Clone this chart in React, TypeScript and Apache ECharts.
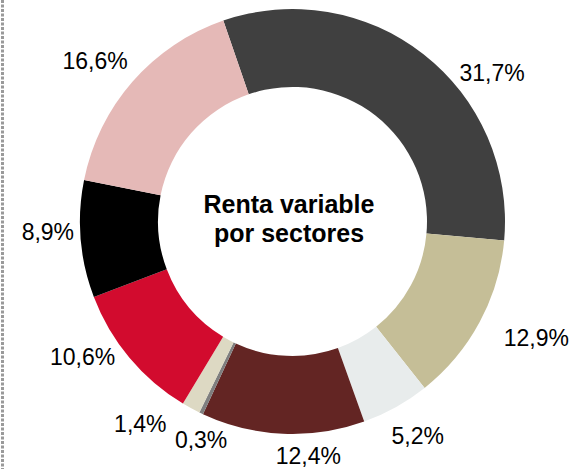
import React, { useEffect, useRef } from "react";
import * as echarts from "echarts";

const sectors = ["S1", "S2", "S3", "S4", "S5", "S6", "S7", "S8", "S9"];
const shares = [31.7, 12.9, 5.2, 12.4, 0.3, 1.4, 10.6, 8.9, 16.6];
const labelTexts = ["31,7%", "12,9%", "5,2%", "12,4%", "0,3%", "1,4%", "10,6%", "8,9%", "16,6%"];
const colors = ["#404040", "#C5BE97", "#E8ECEC", "#632523", "#7F7F7F", "#DDD9C3", "#D20B2E", "#000000", "#E5B9B7"];
// label nudges (styling only)
const labelNudge: [number, number][] = [
  [47, 46], [26, -1], [5, -2], [27, -13], [15, -5], [-34, -15], [-20, -23], [2, -10], [-11, 2],
];

export default function App() {
  const ref = useRef<HTMLDivElement>(null);
  useEffect(() => {
    document.body.style.margin = "0";
    const chart = echarts.init(ref.current!, undefined, { renderer: "svg" });
    chart.setOption({
      animation: false,
      backgroundColor: "#ffffff",
      textStyle: { fontFamily: "Liberation Sans, Arial, sans-serif" },
      title: {
        text: "Renta variable\npor sectores",
        left: 289,
        top: 189,
        textAlign: "center",
        padding: 0,
        textStyle: {
          fontSize: 25,
          fontWeight: "bold",
          color: "#000",
          lineHeight: 29,
          fontFamily: "Liberation Sans, Arial, sans-serif",
        },
      },
      graphic: [
        {
          type: "line",
          shape: { x1: 2.5, y1: 0, x2: 2.5, y2: 469 },
          style: { stroke: "#9A9A9A", lineWidth: 3, lineDash: [3, 1.5] },
        },
      ],
      series: [
        {
          type: "pie",
          center: [292.5, 221.5],
          radius: [134.5, 212.5],
          startAngle: 109,
          clockwise: true,
          avoidLabelOverlap: false,
          itemStyle: { borderWidth: 0 },
          label: {
            show: true,
            position: "outside",
            distanceToLabelLine: 0,
            fontSize: 23,
            lineHeight: 22,
            color: "#000",
            fontFamily: "Liberation Sans, Arial, sans-serif",
            formatter: (p: any) => labelTexts[p.dataIndex],
          },
          labelLine: { show: false, length: 35, length2: 0 },
          labelLayout: (p: any) => ({
            align: "center",
            verticalAlign: "middle",
            dx: labelNudge[p.dataIndex][0],
            dy: labelNudge[p.dataIndex][1],
          }),
          emphasis: { disabled: true },
          data: sectors.map((s, i) => ({
            name: s,
            value: shares[i],
            itemStyle: { color: colors[i] },
          })),
        },
      ],
    });
    return () => chart.dispose();
  }, []);
  return <div ref={ref} style={{ width: 572, height: 469 }} />;
}
